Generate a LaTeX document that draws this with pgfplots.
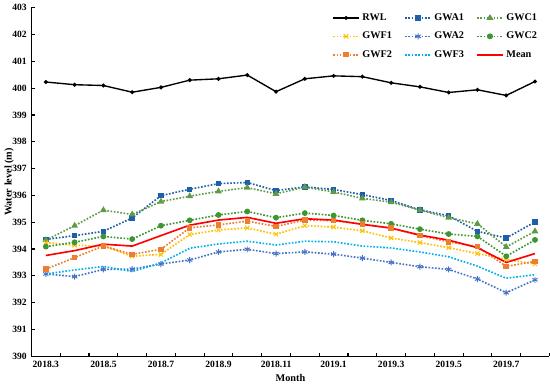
\documentclass[border=0pt]{standalone}
\usepackage{fontspec}
\setmainfont{Liberation Serif}
\usepackage{pgfplots}
\usepackage{pgfplotstable}
\pgfplotsset{compat=1.18}
\definecolor{cAone}{RGB}{31,95,170}
\definecolor{cCone}{RGB}{95,155,70}
\definecolor{cFone}{RGB}{255,192,0}
\definecolor{cAtwo}{RGB}{68,114,196}
\definecolor{cCtwo}{RGB}{60,150,50}
\definecolor{cFtwo}{RGB}{237,125,49}
\definecolor{cFthree}{RGB}{0,176,240}
\pgfplotstableread{
x RWL GWA1 GWC1 GWF1 GWA2 GWC2 GWF2 GWF3 Mean
0 400.23 394.36 394.33 394.24 393.07 394.09 393.25 393.07 393.76
1 400.13 394.50 394.87 394.14 392.97 394.25 393.68 393.22 393.94
2 400.10 394.66 395.45 394.11 393.24 394.47 394.11 393.35 394.18
3 399.85 395.16 395.29 393.73 393.25 394.37 393.80 393.16 394.11
4 400.03 395.99 395.77 393.80 393.44 394.87 393.99 393.48 394.50
5 400.30 396.23 395.97 394.54 393.59 395.07 394.79 394.03 394.89
6 400.35 396.44 396.15 394.71 393.89 395.27 394.90 394.19 395.08
7 400.49 396.48 396.29 394.79 393.99 395.40 395.04 394.29 395.18
8 399.87 396.18 396.06 394.55 393.83 395.17 394.84 394.15 394.96
9 400.35 396.32 396.31 394.87 393.89 395.34 395.08 394.29 395.13
10 400.46 396.22 396.13 394.82 393.81 395.25 395.06 394.27 395.08
11 400.43 396.03 395.89 394.68 393.66 395.07 394.93 394.11 394.92
12 400.20 395.81 395.75 394.41 393.50 394.94 394.78 394.04 394.78
13 400.05 395.46 395.45 394.24 393.34 394.74 394.50 393.89 394.52
14 399.84 395.24 395.17 394.05 393.24 394.56 394.27 393.71 394.33
15 399.94 394.66 394.94 393.83 392.88 394.47 394.09 393.36 394.05
16 399.73 394.41 394.08 393.61 392.37 393.73 393.35 392.91 393.50
17 400.25 395.01 394.66 393.44 392.85 394.34 393.54 393.04 393.83
}\data
\begin{document}
\begin{tikzpicture}
\begin{axis}[
  scale only axis, width=379pt, height=255pt,
  xmin=-0.5, xmax=17.5, ymin=390, ymax=403,
  axis lines*=left,
  tick align=inside,
  xtick={0,2,...,16},
  xticklabels={2018.3,2018.5,2018.7,2018.9,2018.11,2019.1,2019.3,2019.5,2019.7},
  major x tick style={draw=none},
  minor xtick={-0.5,0.5,...,17.5},
  minor tick length=2.5pt,
  ytick={390,391,...,403},
  major tick length=2.5pt,
  tick style={black, line width=0.8pt},
  axis line style={line width=0.9pt},
  ticklabel style={font=\fontsize{7}{8}\selectfont\bfseries},
  /pgf/number format/assume math mode=true,
  /pgf/number format/1000 sep={},
  xlabel={Month}, ylabel={Water level (m)},
  label style={font=\fontsize{7.5}{9}\selectfont\bfseries},
  xlabel style={yshift=2pt},
  ylabel style={yshift=-8pt},
  legend columns=3,
  legend cell align=left,
  legend style={draw=none, fill=none, font=\fontsize{7.5}{9}\selectfont\bfseries,
    at={(0.99,1.0)}, anchor=north east, row sep=3pt,
    /tikz/every even column/.append style={column sep=7pt}},
  legend image post style={xscale=1.1},
  every axis plot/.append style={line width=1.2pt},
]
\addplot[black, line width=1.0pt, mark=*, mark size=0.9pt] table[x=x,y=RWL]{\data};
\addlegendentry{RWL}
\addplot[cAone, dash pattern=on 1.2pt off 1.2pt, mark=square*, mark size=1.4pt, mark options={solid}] table[x=x,y=GWA1]{\data};
\addlegendentry{GWA1}
\addplot[cCone, dash pattern=on 1.2pt off 1.2pt, mark=triangle*, mark size=1.7pt, mark options={solid}] table[x=x,y=GWC1]{\data};
\addlegendentry{GWC1}
\addplot[cFone, dash pattern=on 1.2pt off 1.2pt, mark=x, mark size=2.2pt, mark options={solid, line width=0.7pt}] table[x=x,y=GWF1]{\data};
\addlegendentry{GWF1}
\addplot[cAtwo, dash pattern=on 1.2pt off 1.2pt, mark=asterisk, mark size=2.2pt, mark options={solid, line width=0.7pt}] table[x=x,y=GWA2]{\data};
\addlegendentry{GWA2}
\addplot[cCtwo, dash pattern=on 1.2pt off 1.2pt, mark=*, mark size=1.5pt, mark options={solid}] table[x=x,y=GWC2]{\data};
\addlegendentry{GWC2}
\addplot[cFtwo, dash pattern=on 1.2pt off 1.2pt, mark=square*, mark size=1.4pt, mark options={solid}] table[x=x,y=GWF2]{\data};
\addlegendentry{GWF2}
\addplot[cFthree, dash pattern=on 1.2pt off 1.2pt] table[x=x,y=GWF3]{\data};
\addlegendentry{GWF3}
\addplot[red, line width=1.2pt] table[x=x,y=Mean]{\data};
\addlegendentry{Mean}
\end{axis}
\end{tikzpicture}
\end{document}
